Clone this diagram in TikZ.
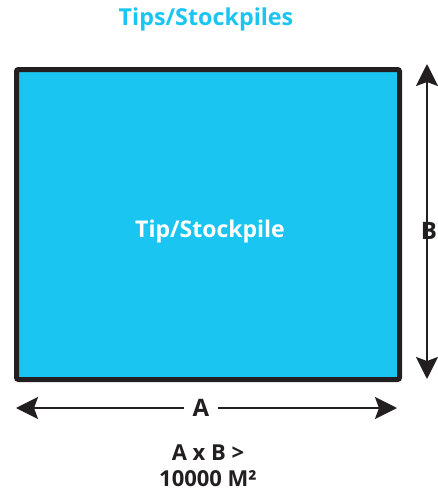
\documentclass[tikz,border=0pt]{standalone}
\usepackage{fontspec}
\setmainfont{Open Sans}
\usetikzlibrary{arrows.meta}
\definecolor{tipcyan}{HTML}{1BC5F1}
\definecolor{darkline}{HTML}{231F20}
\tikzset{
  >={Stealth[length=22pt,width=22pt,inset=4pt]},
  dim/.style={draw=darkline, line width=2.5pt},
  lbl/.style={font=\bfseries\fontsize{24}{28}\selectfont, text=darkline},
}
\begin{document}
\begin{tikzpicture}[x=1pt,y=-1pt]
\useasboundingbox (0,0) rectangle (438,493);
\node[font=\bfseries\fontsize{23.3}{28}\selectfont, text=tipcyan] (title) at (206,19) {Tips/Stockpiles};
\draw[draw=darkline, fill=tipcyan, line width=5pt, rounded corners=2pt] (16.5,69.5) rectangle (399.5,379.5);
\node[font=\bfseries\fontsize{23}{28}\selectfont, text=white] (tip) at (210,232) {Tip/Stockpile};
\coordinate (vt) at (427,64);
\coordinate (vb) at (427,379);
\draw[dim, <->] (vt) -- (vb);
\node[lbl] (B) at (429,231) {B};
\node[lbl, inner xsep=9pt] (A) at (201,408) {A};
\coordinate (hl) at (16,408);
\coordinate (hr) at (397,408);
\draw[dim, ->] (A.west) -- (hl);
\draw[dim, ->] (A.east) -- (hr);
\node[lbl, align=center, font=\bfseries\fontsize{22}{26}\selectfont] (eq) at (208,466) {A x B >\\10000 M²};
\end{tikzpicture}
\end{document}
